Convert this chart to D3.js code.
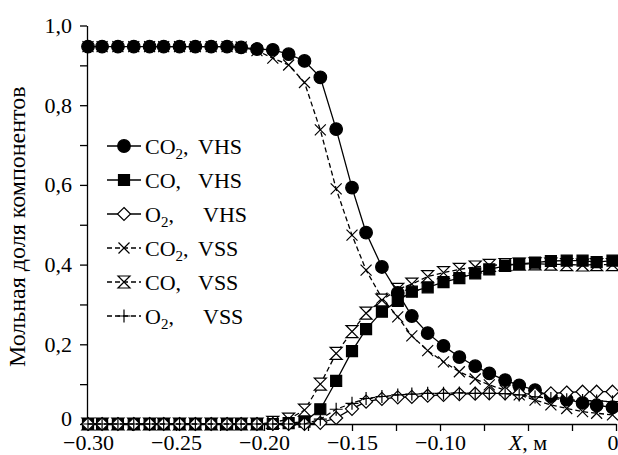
<!DOCTYPE html>
<html>
<head>
<meta charset="utf-8">
<script src="https://cdn.jsdelivr.net/npm/d3@7"></script>
<style>
  html, body { margin: 0; padding: 0; background: #fff; }
  #outer { width: 618px; height: 455px; }
</style>
</head>
<body>
<div id="outer"></div>
<script>
////////// Data //////////
const xValues = [-0.300, -0.292, -0.283, -0.274, -0.265, -0.257, -0.248, -0.239, -0.230, -0.221,
  -0.213, -0.204, -0.195, -0.186, -0.177, -0.168, -0.159, -0.150, -0.142, -0.133,
  -0.124, -0.116, -0.107, -0.098, -0.089, -0.080, -0.072, -0.063, -0.055, -0.046,
  -0.037, -0.028, -0.019, -0.011, -0.002];

const co2VHS = [0.947, 0.947, 0.947, 0.947, 0.947, 0.947, 0.947, 0.947, 0.947, 0.947,
  0.945, 0.941, 0.939, 0.928, 0.911, 0.870, 0.740, 0.593, 0.480, 0.394,
  0.329, 0.271, 0.228, 0.196, 0.168, 0.145, 0.127, 0.110, 0.097, 0.085,
  0.070, 0.061, 0.053, 0.047, 0.042];
const coVHS = [0, 0, 0, 0, 0, 0, 0, 0, 0, 0,
  0, 0, 0, 0.002, 0.006, 0.037, 0.108, 0.183, 0.238, 0.282,
  0.309, 0.332, 0.343, 0.356, 0.366, 0.378, 0.388, 0.397, 0.402, 0.405,
  0.409, 0.410, 0.410, 0.406, 0.410];
const o2VHS = [0, 0, 0, 0, 0, 0, 0, 0, 0, 0,
  0, 0, 0, 0, 0, 0.003, 0.015, 0.038, 0.056, 0.063,
  0.067, 0.068, 0.071, 0.073, 0.075, 0.076, 0.077, 0.077, 0.076, 0.075,
  0.077, 0.079, 0.081, 0.081, 0.081];
const co2VSS = [0.947, 0.947, 0.947, 0.947, 0.947, 0.947, 0.947, 0.947, 0.947, 0.947,
  0.946, 0.937, 0.918, 0.901, 0.857, 0.738, 0.590, 0.474, 0.386, 0.316,
  0.269, 0.221, 0.184, 0.156, 0.131, 0.113, 0.098, 0.085, 0.073, 0.060,
  0.048, 0.039, 0.031, 0.027, 0.023];
const coVSS = [0, 0, 0, 0, 0, 0, 0, 0, 0, 0,
  0, 0, 0.004, 0.012, 0.035, 0.100, 0.177, 0.232, 0.278, 0.311,
  0.338, 0.351, 0.370, 0.380, 0.388, 0.394, 0.398, 0.400, 0.401, 0.402,
  0.401, 0.400, 0.399, 0.400, 0.400];
const o2VSS = [0, 0, 0, 0, 0, 0, 0, 0, 0, 0,
  0, 0, 0, 0, 0, 0.012, 0.037, 0.052, 0.064, 0.069,
  0.073, 0.075, 0.077, 0.077, 0.078, 0.077, 0.077, 0.076, 0.073, 0.068,
  0.064, 0.061, 0.059, 0.058, 0.056];

const xMajorTicks = [-0.30, -0.25, -0.20, -0.15, -0.10, -0.05, 0];
const xMinorTicks = [-0.275, -0.225, -0.175, -0.125, -0.075, -0.025];
const yMajorTicks = [0, 0.2, 0.4, 0.6, 0.8, 1.0];
const yMinorTicks = [0.1, 0.3, 0.5, 0.7, 0.9];

// legend order and label parts
const seriesNames = ['CO2 VHS', 'CO VHS', 'O2 VHS', 'CO2 VSS', 'CO VSS', 'O2 VSS'];
const legendGas = [['CO', '2'], ['CO', ''], ['O', '2'], ['CO', '2'], ['CO', ''], ['O', '2']];
const legendModel = ['VHS', 'VHS', 'VHS', 'VSS', 'VSS', 'VSS'];

function drawChart() {
  ////////// Hard Coded Defs //////////
  const width = 618, height = 455;
  const font = '"Liberation Serif", "Times New Roman", serif';
  const fontSize = 22;

  const series = {
    'CO2 VHS': { values: co2VHS, marker: 'circle', dashed: false },
    'CO VHS': { values: coVHS, marker: 'square', dashed: false },
    'O2 VHS': { values: o2VHS, marker: 'diamond', dashed: false },
    'CO2 VSS': { values: co2VSS, marker: 'cross', dashed: true },
    'CO VSS': { values: coVSS, marker: 'hourglass', dashed: true },
    'O2 VSS': { values: o2VSS, marker: 'plus', dashed: true }
  };
  // drawing order so that overlaps look like the original
  const drawOrder = ['CO2 VSS', 'CO VSS', 'CO2 VHS', 'CO VHS', 'O2 VHS', 'O2 VSS'];

  const x = d3.scaleLinear().domain([-0.30, 0]).range([88, 616]);
  const y = d3.scaleLinear().domain([0, 1]).range([424, 25.5]);

  const svg = d3.select('#outer').append('svg')
    .attr('width', width)
    .attr('height', height)
    .style('font-family', font);

  svg.append('rect').attr('width', width).attr('height', height).attr('fill', '#fff');

  ////////// Axes //////////
  const minus = d => d === 0 ? '0' : '\u2212' + Math.abs(d).toFixed(2);

  const xAxisG = svg.append('g')
    .attr('transform', `translate(0, ${y(0)})`)
    .call(d3.axisBottom(x).tickValues(xMajorTicks)
      .tickFormat(d => Math.abs(d + 0.05) < 1e-9 ? '' : minus(d))
      .tickSize(7).tickSizeOuter(0).tickPadding(6));
  svg.append('g')
    .attr('transform', `translate(0, ${y(0)})`)
    .call(d3.axisBottom(x).tickValues(xMinorTicks).tickFormat('').tickSize(7).tickSizeOuter(0))
    .select('.domain').remove();

  const yAxisG = svg.append('g')
    .attr('transform', `translate(${x(-0.30) - 1}, 0)`)
    .call(d3.axisLeft(y).tickValues(yMajorTicks)
      .tickFormat(d => d === 0 ? '0' : d.toFixed(1).replace('.', ','))
      .tickSize(7).tickSizeOuter(0).tickPadding(8));
  svg.append('g')
    .attr('transform', `translate(${x(-0.30) - 1}, 0)`)
    .call(d3.axisLeft(y).tickValues(yMinorTicks).tickFormat('').tickSize(7).tickSizeOuter(0))
    .select('.domain').remove();

  svg.selectAll('.domain, .tick line').attr('stroke', '#000').attr('stroke-width', 1.3);
  svg.selectAll('.tick text')
    .attr('fill', '#000')
    .style('font-size', fontSize + 'px')
    .style('font-family', font);
  xAxisG.selectAll('.tick text').attr('dy', '0.6em');
  // the last x label hugs the right edge, the lowest y label sits a bit higher
  xAxisG.selectAll('.tick text').filter(d => d === 0)
    .attr('text-anchor', 'end').attr('x', width - x(0));
  yAxisG.selectAll('.tick text').filter(d => d === 0).attr('dy', '0.07em');

  // x axis title sits in the place of the -0.05 label
  const xTitle = svg.append('text')
    .attr('x', x(-0.05))
    .attr('y', y(0) + 7 + 6)
    .attr('dy', '0.6em')
    .attr('text-anchor', 'middle')
    .style('font-size', fontSize + 'px');
  xTitle.append('tspan').style('font-style', 'italic').text('X');
  xTitle.append('tspan').text(', м');

  svg.append('text')
    .attr('transform', `translate(25, ${(y(0) + y(1)) / 2 + 2}) rotate(-90)`)
    .attr('text-anchor', 'middle')
    .style('font-size', '24px')
    .text('Мольная доля компонентов');

  ////////// Markers //////////
  const markerPath = (type) => {
    switch (type) {
      case 'square': return 'M-5.5,-5.5H5.5V5.5H-5.5Z';
      case 'diamond': return 'M0,-6.5L6.5,0L0,6.5L-6.5,0Z';
      case 'cross': return 'M-5.5,-5.5L5.5,5.5M-5.5,5.5L5.5,-5.5';
      case 'hourglass': return 'M-6,-6H6L-6,6H6Z';
      case 'plus': return 'M-6.5,0H6.5M0,-6.5V6.5';
      default: return 'M6.3,0A6.3,6.3 0 1,1 -6.3,0A6.3,6.3 0 1,1 6.3,0Z';
    }
  };
  const markerFill = (type) => {
    if (type === 'circle' || type === 'square') return '#000';
    if (type === 'diamond' || type === 'hourglass') return '#fff';
    return 'none';
  };

  const line = d3.line().x(d => x(d[0])).y(d => y(d[1]));

  const plot = svg.append('g').attr('class', 'plot');
  drawOrder.forEach(name => {
    const s = series[name];
    const pts = xValues.map((xv, i) => [xv, s.values[i]]);
    const g = plot.append('g');
    g.append('path')
      .datum(pts)
      .attr('d', line)
      .attr('fill', 'none')
      .attr('stroke', '#000')
      .attr('stroke-width', 1.3)
      .attr('stroke-dasharray', s.dashed ? '5,3' : null);
    g.selectAll('path.mark')
      .data(pts)
      .join('path')
      .attr('class', 'mark')
      .attr('transform', d => `translate(${x(d[0])}, ${y(d[1])})`)
      .attr('d', markerPath(s.marker))
      .attr('fill', markerFill(s.marker))
      .attr('stroke', '#000')
      .attr('stroke-width', 1.2);
  });

  ////////// Legend //////////
  const legend = svg.append('g').attr('class', 'legend');
  const legendY0 = 146, legendStep = 34;
  seriesNames.forEach((name, i) => {
    const s = series[name];
    const cy = legendY0 + i * legendStep;
    legend.append('line')
      .attr('x1', 107).attr('x2', 141)
      .attr('y1', cy).attr('y2', cy)
      .attr('stroke', '#000')
      .attr('stroke-width', 1.3)
      .attr('stroke-dasharray', s.dashed ? '5,3' : null);
    legend.append('path')
      .attr('transform', `translate(124, ${cy})`)
      .attr('d', markerPath(s.marker))
      .attr('fill', markerFill(s.marker))
      .attr('stroke', '#000')
      .attr('stroke-width', 1.2);
    const t = legend.append('text')
      .attr('x', 145)
      .attr('y', cy + 7.5)
      .style('font-size', fontSize + 'px');
    t.append('tspan').text(legendGas[i][0]);
    if (legendGas[i][1]) {
      t.append('tspan').attr('dy', 5).style('font-size', '15px').text(legendGas[i][1]);
      t.append('tspan').attr('dy', -5).text(',');
    } else {
      t.append('tspan').text(',');
    }
    t.append('tspan')
      .attr('x', legendGas[i][0] === 'O' ? 203 : 198)
      .text(legendModel[i]);
  });
}

drawChart();
</script>
</body>
</html>
